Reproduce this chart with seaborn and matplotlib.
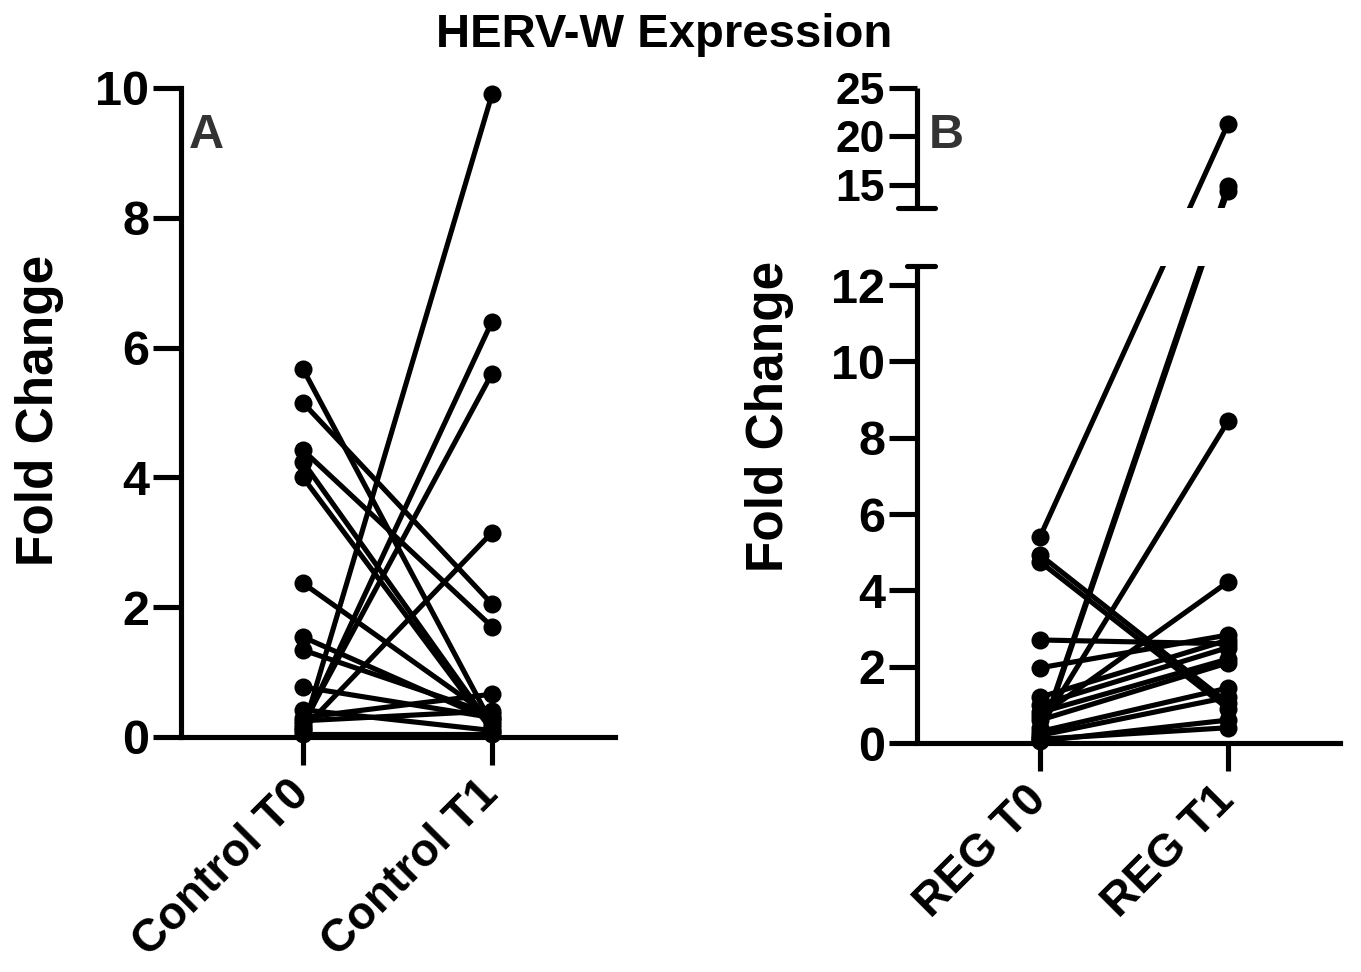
import numpy as np
import pandas as pd
import matplotlib
matplotlib.use("Agg")
import matplotlib.pyplot as plt
import seaborn as sns
from matplotlib.patches import Rectangle

# ---------------- data ----------------
control_labels = ["Control T0", "Control T1"]
control_t0 = [0.10, 0.15, 0.20, 0.12, 5.67, 5.15, 4.42, 4.24, 4.00, 2.37, 1.54, 1.34, 0.77, 0.30, 0.42, 0.05, 0.25]
control_t1 = [9.90, 6.40, 5.60, 3.15, 0.20, 2.05, 1.70, 0.15, 0.10, 0.30, 0.25, 0.35, 0.30, 0.66, 0.10, 0.05, 0.40]

reg_labels = ["REG T0", "REG T1"]
reg_t0 = [5.40, 0.10, 0.15, 0.40, 0.70, 4.93, 4.75, 2.70, 1.97, 1.20, 1.00, 0.80, 0.60, 0.30, 0.20, 0.05, 0.10]
reg_t1 = [21.3, 14.4, 14.9, 8.43, 4.22, 1.05, 0.90, 2.60, 2.83, 2.70, 2.50, 2.20, 2.10, 1.44, 1.20, 0.60, 0.40]

control_yticks = [0, 2, 4, 6, 8, 10]
reg_yticks_low = [0, 2, 4, 6, 8, 10, 12]
reg_yticks_high = [15, 20, 25]

title = "HERV-W Expression"
ylabel = "Fold Change"


def long_df(t0, t1):
    n = len(t0)
    return pd.DataFrame({
        "subject": list(range(n)) * 2,
        "time": [0] * n + [1] * n,
        "value": list(t0) + list(t1),
    })


sns.set_theme(style="ticks")
plt.rcParams["font.family"] = ["Liberation Sans", "DejaVu Sans"]
plt.rcParams["font.weight"] = "bold"

W, H = 1361, 972
fig = plt.figure(figsize=(W / 100, H / 100), dpi=100)


def px_axes(l, t, r, b):
    return fig.add_axes([l / W, 1 - b / H, (r - l) / W, (b - t) / H])


axA = px_axes(181, 88, 615, 737)
axB = px_axes(917, 88, 1340, 743)

LW = 3.7
MS = 13
TICKLEN = 20
FS = 35
XFS = 33

for ax, df in ((axA, long_df(control_t0, control_t1)), (axB, long_df(reg_t0, reg_t1))):
    sns.lineplot(data=df, x="time", y="value", units="subject", estimator=None,
                 color="black", lw=LW, marker="o", markersize=MS, markeredgewidth=0,
                 ax=ax, legend=False, clip_on=False)
    ax.set_xlabel("")
    ax.set_ylabel("")
    ax.set_facecolor("white")
    for s in ("top", "right"):
        ax.spines[s].set_visible(False)
    for s in ("left", "bottom"):
        ax.spines[s].set_linewidth(LW)
        ax.spines[s].set_color("black")
    ax.tick_params(axis="both", direction="out", length=TICKLEN, width=LW, color="black",
                   labelsize=FS, labelcolor="black")
    ax.tick_params(axis="x", pad=16, labelsize=XFS)
    ax.tick_params(axis="y", pad=3)

# ---- panel A ----
axA.set_xlim(-0.6455, 1.651)
axA.set_ylim(0, 10)
axA.set_yticks(control_yticks)
axA.set_yticklabels([str(v) for v in control_yticks], fontweight="bold")
axA.set_xticks([0, 1])
axA.set_xticklabels(control_labels, rotation=45, ha="right", va="center",
                    rotation_mode="anchor", fontweight="bold")

# ---- panel B : broken y axis ----
B1, B2 = 12.5, 12.6
PXU = 477 / 12.5
GAP = 58 / PXU
K = (120 / PXU) / (25 - B2)


def fwd(y):
    y = np.asarray(y, dtype=float)
    return np.where(y <= B1, y,
                    np.where(y <= B2, B1 + (y - B1) / (B2 - B1) * GAP,
                             B1 + GAP + (y - B2) * K))


def inv(z):
    z = np.asarray(z, dtype=float)
    return np.where(z <= B1, z,
                    np.where(z <= B1 + GAP, B1 + (z - B1) / GAP * (B2 - B1),
                             B2 + (z - B1 - GAP) / K))


axB.set_yscale("function", functions=(fwd, inv))
axB.set_ylim(0, 25)
axB.set_xlim(-0.654, 1.596)
yt = reg_yticks_low + reg_yticks_high
axB.set_yticks(yt)
axB.set_yticklabels([str(v) for v in yt], fontweight="bold")
for lab, v in zip(axB.get_yticklabels(), yt):
    if v in reg_yticks_high:
        lab.set_fontsize(32)
axB.minorticks_off()
axB.set_xticks([0, 1])
axB.set_xticklabels(reg_labels, rotation=45, ha="right", va="center",
                    rotation_mode="anchor", fontweight="bold")

axB.spines["left"].set_visible(False)
trans = axB.get_yaxis_transform()
axB.add_patch(Rectangle((0.004, B1), 1.0, B2 - B1, transform=trans, facecolor="white",
                        edgecolor="none", zorder=4, clip_on=False))
axB.plot([0, 0], [0, B1], transform=trans, color="black", lw=LW, clip_on=False, zorder=6,
         solid_capstyle="butt")
axB.plot([0, 0], [B2, 25], transform=trans, color="black", lw=LW, clip_on=False, zorder=6,
         solid_capstyle="butt")
axB.plot([-10 / 423, 18 / 423], [B1, B1], transform=trans, color="black", lw=LW,
         clip_on=False, zorder=6)
axB.plot([-19 / 423, 18 / 423], [B2, B2], transform=trans, color="black", lw=LW,
         clip_on=False, zorder=6)

# ---- texts ----
fig.text(664 / W, 1 - 47 / H, title, fontsize=34, fontweight="bold", ha="center",
         va="baseline", color="black")
fig.text(40 / W, 1 - 410 / H, ylabel, rotation=90, fontsize=37, fontweight="bold",
         ha="center", va="center", color="black")
fig.text(770 / W, 1 - 416 / H, ylabel, rotation=90, fontsize=37, fontweight="bold",
         ha="center", va="center", color="black")
fig.text(206 / W, 1 - 148 / H, "A", fontsize=35, fontweight="bold", ha="center",
         va="baseline", color="#333333")
fig.text(946 / W, 1 - 148 / H, "B", fontsize=35, fontweight="bold", ha="center",
         va="baseline", color="#333333")

fig.savefig("out.png", dpi=100, facecolor="white")
